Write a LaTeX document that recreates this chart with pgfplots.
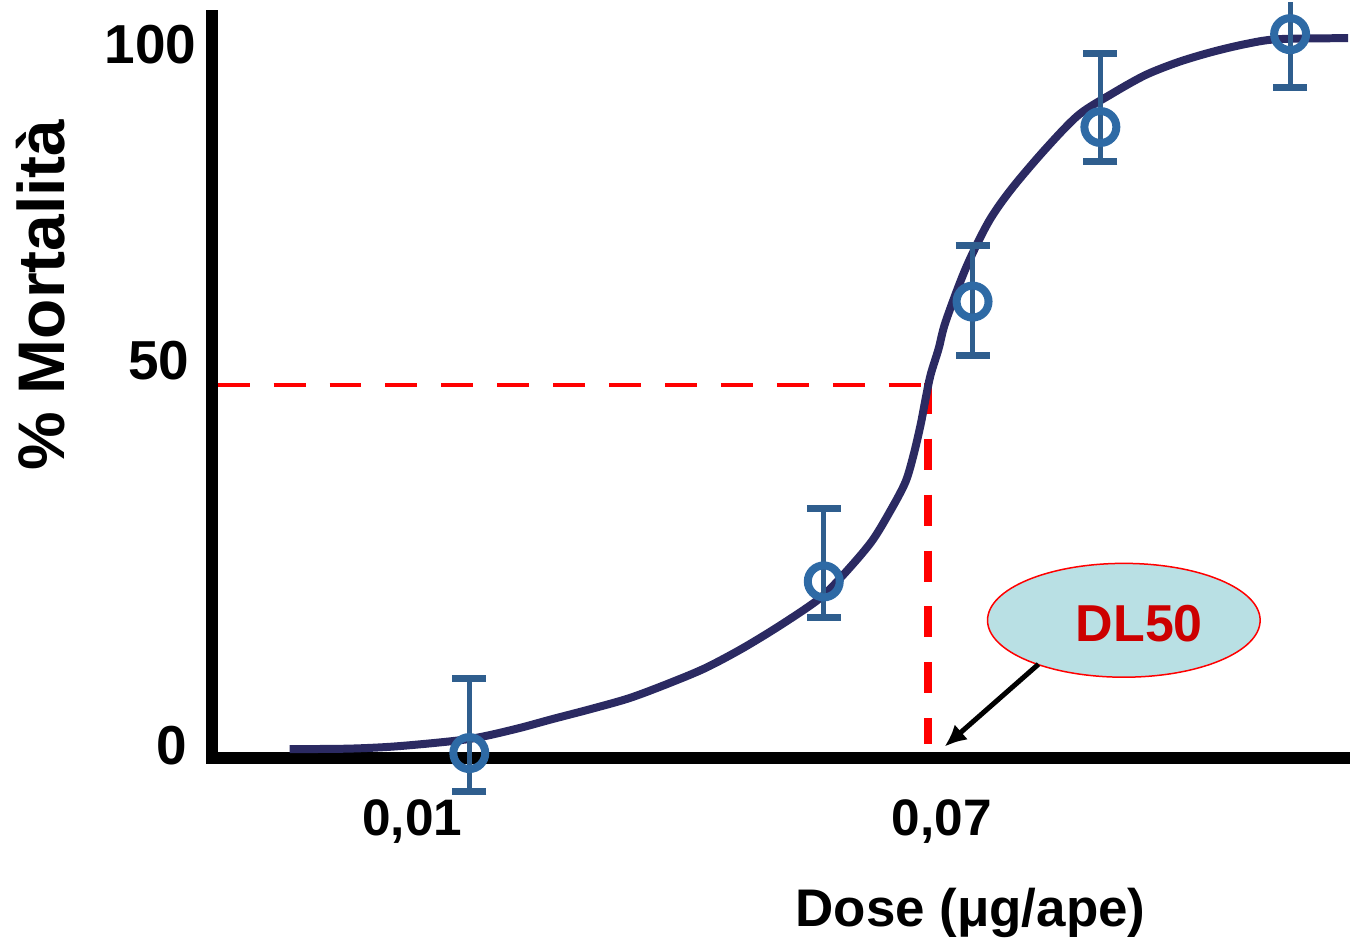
\documentclass[border=0pt]{standalone}
\usepackage{fontspec}
\setmainfont{Liberation Sans}
\usepackage{pgfplots}
\pgfplotsset{compat=1.18}
\usetikzlibrary{shapes.geometric,arrows.meta}
\definecolor{curvecol}{HTML}{2B2A62}
\definecolor{mk}{HTML}{2E6AA5}
\definecolor{eb}{HTML}{2F5E8E}
\definecolor{ell}{HTML}{B9E0E4}
\definecolor{dlred}{HTML}{CC0000}
\begin{document}
\begin{tikzpicture}
\begin{axis}[
  x=0.5pt, y=3.6pt,
  xmin=212.5, xmax=1346, ymin=0, ymax=103.3,
  axis x line=bottom, axis y line=left,
  axis line style={-, line width=5.75pt, line cap=rect, black},
  clip=false,
  xtick={413,943}, xticklabels={{0,01},{0,07}},
  ytick={1.8,55.3,99.2}, yticklabels={0\kern4.5pt,50\kern3.5pt,100},
  major tick length=0pt,
  tick style={draw=none},
  xticklabel style={font=\fontsize{25.7}{30}\selectfont\bfseries, anchor=base, inner sep=0pt, yshift=-39pt},
  yticklabel style={font=\fontsize{27.5}{30}\selectfont\bfseries, anchor=east, inner sep=0pt, xshift=-7.75pt},
  xlabel={Dose (μg/ape)},
  xlabel style={at={(axis cs:972,-23.47)}, anchor=base, inner sep=0pt, font=\fontsize{26.5}{30}\selectfont\bfseries},
  ylabel={\% Mortalità},
  ylabel style={at={(axis cs:65,64.4)}, anchor=base, rotate=0, inner sep=0pt, font=\fontsize{33}{36}\selectfont\bfseries},
]
% page frame
\path (axis cs:0,-25.694) rectangle (axis cs:1352,105.139);

% red dashed lines (DL50)
\addplot[red, line width=2pt, dash pattern=on 16pt off 12pt] coordinates {(218,51.94) (923,51.94)};
\addplot[red, line width=4pt, dash pattern=on 15.5pt off 12.5pt] coordinates {(929,52.2) (929,1.94)};

% fitted curve
\addplot[curvecol, line width=4pt, smooth] coordinates {
(290,1.25) (350,1.32) (400,1.67) (469,2.64) (515,4.0) (553,5.42) (591,6.8)
(630,8.33) (668,10.3) (706,12.5) (744,15.3) (783,18.61) (821,22.22)
(845,25.56) (873,30.14) (893,34.72) (907,38.47) (915,42.22) (922,46.39)
(927,50.0) (932,53.33) (940,56.94) (947,60.69) (967,68.06) (990,74.58)
(1013,79.17) (1047,84.72) (1080,89.44) (1113,92.36) (1147,95.0)
(1180,96.81) (1213,98.19) (1247,99.31) (1280,100.0) (1350,100.14)};

% observed points with error bars
\addplot[only marks, mark=o, mark size=8pt, color=mk, mark options={line width=4pt, mk},
  error bars/.cd, y dir=both, y explicit,
  error bar style={eb, line width=2.5pt},
  error mark options={rotate=90, eb, line width=3.5pt, mark size=8.5pt}]
coordinates {
(470,0.7) += (0,10.4) -= (0,5.28)
(825,24.58) += (0,10.1) -= (0,5.0)
(974,63.5) += (0,7.75) -= (0,7.5)
(1102,87.78) += (0,10.28) -= (0,4.86)
};
\addplot[only marks, mark=o, mark size=8pt, color=mk, mark options={line width=4pt, mk},
  error bars/.cd, y dir=minus, y explicit,
  error bar style={eb, line width=2.5pt},
  error mark options={rotate=90, eb, line width=3.5pt, mark size=8.5pt}]
coordinates {(1292,100.7) -= (0,7.4)};
\addplot[eb, line width=2.5pt] coordinates {(1292,100.7) (1292,105.1)};

% DL50 callout
\node[ellipse, draw=red, fill=ell, line width=0.75pt, minimum width=136.5pt, minimum height=57pt, inner sep=0pt] at (axis cs:1125.5,19.17) {};
\node[anchor=base, inner sep=0pt, text=dlred, font=\fontsize{26}{30}\selectfont\bfseries] at (axis cs:1141,16.25) {DL50};
\draw[-{Latex[length=11pt,width=10pt]}, line width=2.5pt, black] (axis cs:1040,13.06) -- (axis cs:946,1.6);
\end{axis}
\end{tikzpicture}
\end{document}
